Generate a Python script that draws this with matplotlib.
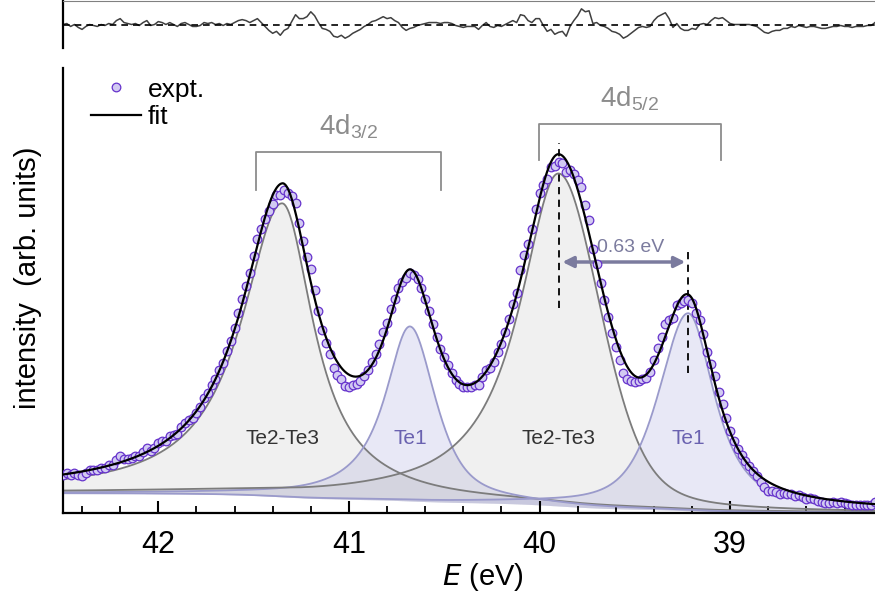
import numpy as np
import matplotlib.pyplot as plt
from matplotlib.ticker import MultipleLocator

plt.rcParams['font.family'] = ['Liberation Sans', 'DejaVu Sans']
plt.rcParams['mathtext.fontset'] = 'custom'
plt.rcParams['mathtext.rm'] = 'Liberation Sans'
plt.rcParams['mathtext.it'] = 'Liberation Sans Narrow:italic'

# fitted components (centre in eV, height, half widths, lorentzian share)
names = ['Te2-Te3', 'Te1', 'Te2-Te3', 'Te1']
centers = [41.35, 40.68, 39.90, 39.22]
heights = [294, 175, 333, 198]
hw_left = [0.26, 0.16, 0.25, 0.185]
hw_right = [0.20, 0.16, 0.26, 0.165]
lor_left = [1.0, 1.0, 1.0, 0.65]
lor_right = [1.0, 0.7, 0.3, 0.85]
bg_high, bg_low = 19.5, 0.0

# residual (expt - fit), one value per 0.02 eV from 42.5 eV
e_start, e_step = 42.5, 0.02
resid = [0, 1, -2, 0, -3, -5, -2, 0, -1, -2,
         0, -1, 1, 0, 4, 6, 2, 1, 0, 1,
         -1, 2, 4, -1, 0, 3, 2, 0, 2, 0,
         -2, 1, 2, 0, -2, -2, -1, 2, 1, 2,
         0, 1, -1, 1, 0, 2, 4, 5, 4, 2,
         4, 6, 2, -2, -6, -9, -7, -11, -6, -4,
         3, 10, 6, 6, 8, 13, 9, 2, -4, -5,
         -7, -12, -13, -11, -14, -12, -9, -7, -5, -2,
         0, 3, 4, 6, 8, 6, 7, 4, 2, -3,
         -6, -4, -3, -1, 0, 1, 2, 2, 2, 1,
         2, 2, 1, -1, -2, -3, -2, -2, -2, -5,
         -1, 2, -2, -3, -1, -2, 0, 2, 4, 2,
         10, 9, 4, 2, 6, 6, -1, -7, -5, -10,
         -8, -7, -12, -2, 4, 9, 16, 13, 14, 1,
         2, -1, -2, -4, -7, -8, -10, -14, -12, -9,
         -6, -3, -2, -3, -2, 4, 8, 10, 12, 6,
         -3, 1, -4, -6, -6, -4, -5, 0, 1, 0,
         4, 7, 6, 7, 4, 1, 0, 0, 0, 0,
         0, -1, -2, -5, -8, -9, -7, -6, -6, -4,
         -4, -2, -3, -1, -2, -3, -2, -2, -3, -4,
         -4, -3, -2, -2, -1, -2, -2, -3, -2, -2,
         -2, -1, -1, 2]

brackets = [(41.485, 40.519, 361, 38, '4d$_{3/2}$'),
            (40.004, 39.05, 389, 36, '4d$_{5/2}$')]
split_label = '0.63 eV'


def peak(e, i):
    d = e - centers[i]
    g = np.where(d > 0, hw_left[i], hw_right[i])
    eta = np.where(d > 0, lor_left[i], lor_right[i])
    u = (d / g) ** 2
    return heights[i] * (eta / (1 + u) + (1 - eta) * np.exp(-np.log(2) * u))


e = np.linspace(42.7, 38.0, 1500)
comps = [peak(e, i) for i in range(4)]
total_peaks = sum(comps)
cum = np.cumsum(total_peaks[::-1])[::-1]
bg = bg_low + (bg_high - bg_low) * cum / cum[0]
fit = bg + total_peaks

e_expt = e_start - e_step * np.arange(len(resid))
fit_expt = np.interp(e_expt, e[::-1], fit[::-1])
expt = fit_expt + np.array(resid)

fig = plt.figure(figsize=(8.75, 5.98), dpi=100)
ax = fig.add_axes([63 / 875, 85 / 598, 1 - 63 / 875, 445 / 598])
axr = fig.add_axes([63 / 875, 550 / 598, 1 - 63 / 875, 47 / 598])

fill_cols = ['#b4b4b4', '#a6a6dc', '#b4b4b4', '#a6a6dc']
line_cols = ['#7c7c7c', '#9a9acb', '#7c7c7c', '#9a9acb']
alphas = [0.2, 0.25, 0.2, 0.25]
for i in range(4):
    ax.fill_between(e, bg, bg + comps[i], color=fill_cols[i], alpha=alphas[i], lw=0)
for i in range(4):
    ax.plot(e, bg + comps[i], color=line_cols[i], lw=1.3)

ax.plot(e_expt, expt, 'o', ms=6.2, mfc='#d2caf2', mec='#6633cc', mew=0.9,
        label='expt.', zorder=4)
ax.plot(e, fit, color='k', lw=1.6, label='fit', zorder=5)

name_cols = ['#333333', '#6a62b0', '#333333', '#6a62b0']
for i in range(4):
    ax.text(centers[i], 75, names[i], ha='center', va='center', fontsize=15,
            color=name_cols[i])

for x0, x1, y, leg, lab in brackets:
    ax.plot([x0, x0, x1, x1], [y - leg, y, y, y - leg], color='#8c8c8c', lw=1.3)
    ax.text((x0 + x1) / 2, y + 11, lab, ha='center', va='bottom', fontsize=20,
            color='#8c8c8c')

ax.plot([centers[2], centers[2]], [205, 370], 'k--', lw=1.3, dashes=(4, 3))
ax.plot([centers[3], centers[3]], [140, 265], 'k--', lw=1.3, dashes=(4, 3))
ax.annotate('', xy=(centers[3] + 0.015, 251), xytext=(centers[2] - 0.02, 251),
            arrowprops=dict(arrowstyle='<|-|>', color='#7b7b9e', lw=2.5,
                            mutation_scale=16, shrinkA=0, shrinkB=0))
ax.text(39.52, 257, split_label, ha='center', va='bottom',
        fontsize=14, color='#7b7b9e')

ax.set_xlim(42.5, 38.24)
ax.set_ylim(0, 445)
ax.set_xticks([42, 41, 40, 39])
ax.xaxis.set_minor_locator(MultipleLocator(0.2))
ax.set_yticks([])
ax.tick_params(axis='x', which='major', direction='in', length=9, width=1.5,
               labelsize=22, pad=12)
ax.tick_params(axis='x', which='minor', direction='in', length=5, width=1.3)
for lab in ax.get_xticklabels():
    lab.set_family(['Liberation Sans Narrow', 'Liberation Sans'])
for s in ['top', 'right']:
    ax.spines[s].set_visible(False)
for s in ['left', 'bottom']:
    ax.spines[s].set_linewidth(1.6)
ax.set_xlabel('$\\mathit{E}$ (eV)', fontsize=21, family=['Liberation Sans Narrow', 'Liberation Sans'])
ax.xaxis.set_label_coords(0.517, -0.108)
ax.set_ylabel('intensity  (arb. units)', fontsize=21)
ax.yaxis.set_label_coords(-0.026, 0.528)
ax.legend(loc='upper left', bbox_to_anchor=(0.012, 1.02), frameon=False, fontsize=19,
          handlelength=1.9, handletextpad=0.25, labelspacing=0.12, borderaxespad=0.3)

axr.plot(e_expt, resid, color='#404040', lw=1.1)
axr.axhline(0, color='k', lw=1.2, ls=(0, (4, 3)))
axr.set_xlim(42.5, 38.24)
axr.set_ylim(-24, 24)
axr.set_xticks([])
axr.set_yticks([])
axr.spines['right'].set_visible(False)
axr.spines['bottom'].set_visible(False)
axr.spines['top'].set_color('#808080')
axr.spines['left'].set_linewidth(1.6)

fig.savefig('out.png', dpi=100)
